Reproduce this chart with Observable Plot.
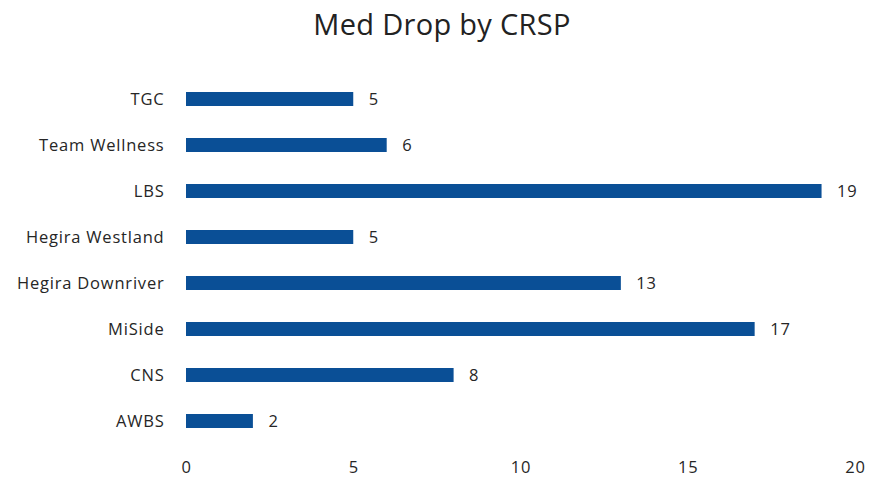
<!DOCTYPE html>
<html><head><meta charset="utf-8">
<script src="https://cdn.jsdelivr.net/npm/d3@7"></script>
<script src="https://cdn.jsdelivr.net/npm/@observablehq/plot@0.6"></script>
<style>
body{margin:0;background:#fff;font-family:"Open Sans",sans-serif;}
#title{height:48px;width:869px;text-align:center;font-size:29px;line-height:48px;color:#222;padding-left:15px;box-sizing:border-box;letter-spacing:0.3px;}
svg text{letter-spacing:0.8px;}
</style></head>
<body>
<div id="title">Med Drop by CRSP</div>
<div id="chart"></div>
<script>
const categories = ["TGC","Team Wellness","LBS","Hegira Westland","Hegira Downriver","MiSide","CNS","AWBS"];
const values = [5,6,19,5,13,17,8,2];
const xTicks = [0,5,10,15,20];
const data = categories.map((c,i)=>({name:c,value:values[i]}));
const chart = Plot.plot({
  width:869, height:433,
  marginLeft:186, marginRight:14, marginTop:23.5, marginBottom:32.5,
  style:{fontFamily:"Open Sans, sans-serif", fontSize:"16.5px", color:"#262626", background:"#fff"},
  x:{domain:[0,20], ticks:xTicks, label:null, tickSize:0, tickPadding:12},
  y:{domain:categories, paddingInner:0.7, paddingOuter:0.4, label:null, tickSize:0, tickPadding:22},
  marks:[
    Plot.barX(data,{y:"name", x:"value", fill:"#0a4f96"}),
    Plot.text(data,{y:"name", x:"value", text:d=>String(d.value), textAnchor:"start", dx:15, fill:"#262626", fontSize:16.5})
  ]
});
document.getElementById("chart").appendChild(chart);
</script>
</body></html>
